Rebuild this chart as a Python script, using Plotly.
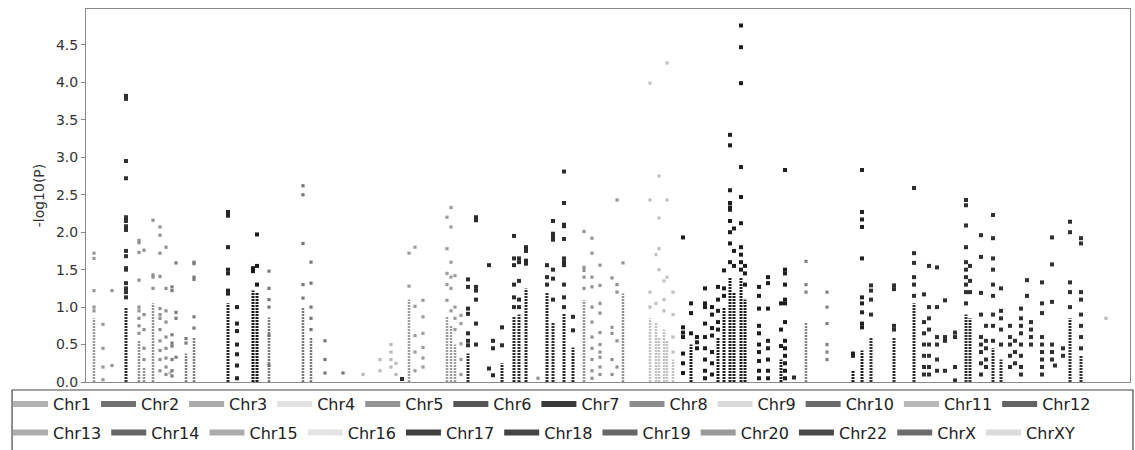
import plotly.graph_objects as go

# ---------------- data ----------------
chr_names = ["Chr1", "Chr2", "Chr3", "Chr4", "Chr5", "Chr6", "Chr7", "Chr8", "Chr9", "Chr10",
             "Chr11", "Chr12", "Chr13", "Chr14", "Chr15", "Chr16", "Chr17", "Chr18", "Chr19",
             "Chr20", "Chr22", "ChrX", "ChrXY"]
chr_colors = ["#b2b2b2", "#6f6f6f", "#aaaaaa", "#e2e2e2", "#939393", "#555555", "#3a3a3a",
              "#8c8c8c", "#dadada", "#6a6a6a", "#b8b8b8", "#636363", "#adadad", "#666666",
              "#acacac", "#e4e4e4", "#404040", "#444444", "#676767", "#9a9a9a", "#4a4a4a",
              "#6c6c6c", "#dcdcdc"]

y_ticks = [0.0, 0.5, 1.0, 1.5, 2.0, 2.5, 3.0, 3.5, 4.0, 4.5]

# per chromosome: SNP positions (genome index), -log10(P) values at each position,
# and the top of the dense run of SNPs at that position (0 = none)
chr1_pos = [8, 17, 26]
chr1_snps = [[1.72, 1.65, 1.22, 1.0, 0.95], [0.77, 0.45, 0.2, 0.03], [1.22, 0.22]]
chr1_stack = [0.85, 0, 0]

chr2_pos = [40]
chr2_snps = [[3.82, 3.78, 2.95, 2.72, 2.2, 2.15, 2.08, 2.03, 1.75, 1.68, 1.52, 1.5, 1.32, 1.25, 1.2, 1.13]]
chr2_stack = [1.0]

chr3_pos = [53, 58, 67, 74, 80]
chr3_snps = [[1.89, 1.86, 1.73, 1.36, 1.0, 0.95, 0.85, 0.75, 0.65], [1.76, 0.9, 0.7, 0.45, 0.3],
             [2.16, 1.43, 1.4, 1.25], [2.07, 1.96, 1.72, 1.41, 0.98, 0.9, 0.85, 0.7, 0.55, 0.42, 0.3, 0.15],
             [1.8, 1.25, 0.95, 0.8, 0.6, 0.45, 0.32, 0.2, 0.1]]
chr3_stack = [0.55, 0.2, 1.05, 0, 0]

chr4_pos = [84]
chr4_snps = [[0.12]]
chr4_stack = [0]

chr5_pos = [86, 90, 100, 108]
chr5_snps = [[1.27, 1.22, 0.63, 0.52, 0.48, 0.3, 0.15, 0.08], [1.59, 0.93, 0.85, 0.33], [0.58, 0.52],
             [1.6, 1.58, 1.4, 1.37, 0.87, 0.72]]
chr5_stack = [0, 0, 0.38, 0.6]

chr6_pos = [142, 151]
chr6_snps = [[2.27, 2.22, 1.8, 1.5, 1.45, 1.22, 1.18], [1.0, 0.78, 0.68, 0.5, 0.37, 0.22, 0.05]]
chr6_stack = [1.05, 0]

chr7_pos = [167, 171]
chr7_snps = [[1.52, 1.48], [1.97, 1.55, 1.3]]
chr7_stack = [1.22, 1.2]

chr8_pos = [183, 217, 225, 239, 257]
chr8_snps = [[1.48, 1.25, 1.1, 1.0, 0.62, 0.22], [2.62, 2.5, 1.85, 1.3, 1.12], [1.6, 1.32, 1.0, 0.85, 0.7],
             [0.55, 0.3, 0.12], [0.12]]
chr8_stack = [0.86, 1.0, 0.6, 0, 0]

chr9_pos = [277, 294, 305, 310]
chr9_snps = [[0.1], [0.3, 0.15], [0.5, 0.4, 0.3, 0.2], [0.25, 0.1]]
chr9_stack = [0, 0, 0, 0]

chr10_pos = [316]
chr10_snps = [[0.04]]
chr10_stack = [0]

chr11_pos = [323, 329, 337, 361, 365, 369, 375]
chr11_snps = [[1.72, 1.28], [1.8, 1.01, 0.62, 0.4, 0.15], [1.09, 0.87, 0.65, 0.46, 0.32, 0.2],
              [2.2, 1.78, 1.45, 1.3, 1.09], [2.33, 2.07, 1.6, 1.4, 1.25, 0.95], [1.42, 1.0, 0.85, 0.7],
              [0.89, 0.78, 0.51, 0.3, 0.1]]
chr11_stack = [1.1, 0, 0, 0.87, 0.75, 0.5, 0]

chr12_pos = [382, 390, 403, 407, 416, 428, 433, 440]
chr12_snps = [[1.37, 1.27, 0.98, 0.91, 0.65, 0.55, 0.49], [2.2, 2.16, 1.27, 1.22, 1.1, 0.78, 0.5],
              [1.56, 0.18], [0.55, 0.45, 0.09], [0.73, 0.49], [1.95, 1.65, 1.56, 1.3, 1.13, 1.0],
              [1.65, 1.6, 1.35, 1.1, 1.0], [1.8, 1.75, 1.62, 1.58]]
chr12_stack = [0.38, 0, 0, 0, 0.25, 0.87, 0.9, 1.25]

chr13_pos = [452]
chr13_snps = [[0.05]]
chr13_stack = [0]

chr14_pos = [461, 467, 478, 487]
chr14_snps = [[1.56, 1.4, 1.3], [2.15, 1.98, 1.94, 1.9, 1.5, 1.38, 1.1],
              [2.81, 2.39, 2.1, 2.08, 1.91, 1.65, 1.6, 1.56, 1.3, 1.13, 1.0], [0.87, 0.69]]
chr14_stack = [1.2, 0.8, 0.92, 0.46]

chr15_pos = [498, 506, 514, 526, 531, 537]
chr15_snps = [[2.01, 1.53, 1.49, 1.4, 1.25], [1.92, 1.72, 1.4, 1.27, 1.0, 0.8, 0.6, 0.45, 0.3, 0.15, 0.05],
              [1.56, 1.29, 1.05, 0.92, 0.66, 0.5, 0.4, 0.33, 0.2, 0.1], [1.39, 0.73, 0.65, 0.3, 0.1],
              [2.43, 1.3, 1.2, 0.55, 0.2], [1.59]]
chr15_stack = [1.09, 0, 0, 0, 0, 1.18]

chr16_pos = [564, 570, 573, 578, 581, 587]
chr16_snps = [[3.99, 2.43, 1.2, 1.0], [1.7, 1.05], [2.75, 2.19, 1.78, 1.5], [1.35, 1.1, 0.95],
              [4.26, 2.43, 1.4], [1.2, 0.9, 0.6, 0.4]]
chr16_stack = [0.85, 0.8, 0.6, 0.7, 0.55, 0.3]

chr17_pos = [597, 605, 611]
chr17_snps = [[1.93, 0.73, 0.66, 0.6, 0.38, 0.25, 0.12], [1.05, 0.92, 0.65], [0.6, 0.53, 0.45]]
chr17_stack = [0, 0.5, 0]

chr18_pos = [619, 626, 632, 638, 644, 648, 655, 659, 673, 682, 695, 699]
chr18_snps = [[1.25, 1.05, 1.0, 0.78, 0.6, 0.45, 0.3, 0.15, 0.05], [1.0, 0.9, 0.72, 0.62, 0.4, 0.25, 0.1],
              [1.27, 1.1, 0.95, 0.8, 0.7], [1.49, 1.25, 1.15],
              [3.3, 3.16, 2.56, 2.39, 2.33, 2.3, 2.15, 2.0, 1.85, 1.6], [2.05, 1.75, 1.55],
              [4.76, 4.47, 3.99, 2.87, 2.47, 2.12, 1.8, 1.7, 1.6, 1.5], [1.55, 1.45, 1.3],
              [1.27, 1.15, 0.98, 0.75, 0.65, 0.5, 0.4, 0.28, 0.15, 0.05],
              [1.4, 1.32, 0.98, 0.55, 0.45, 0.3, 0.15, 0.05], [1.05, 0.7, 0.48],
              [2.83, 1.5, 1.45, 1.3, 1.1, 1.05, 0.8, 0.55, 0.45, 0.35, 0.25, 0.15, 0.05]]
chr18_stack = [0, 0, 0.6, 1.0, 1.4, 1.2, 1.4, 1.1, 0, 0, 0.3, 0]

chr19_pos = [708]
chr19_snps = [[0.06]]
chr19_stack = [0]

chr20_pos = [720, 741]
chr20_snps = [[1.61, 1.3, 1.2], [1.2, 1.0, 0.78, 0.5, 0.4, 0.3]]
chr20_stack = [0.8, 0]

chr22_pos = [767, 776]
chr22_snps = [[0.38, 0.35], [2.83, 2.27, 2.17, 2.07, 1.65, 1.13, 1.05, 0.93, 0.78, 0.73]]
chr22_stack = [0.15, 0.42]

chrX_pos = [785, 808, 828, 838, 843, 851, 859, 869, 880, 884, 895, 900, 907, 915, 924, 929, 935,
            941, 945, 956, 966, 969, 977, 984, 995]
chrX_snps = [[1.29, 1.22, 1.1, 0.9], [1.29, 1.24, 0.75, 0.7], [2.59, 1.72, 1.59, 1.4, 1.3, 1.15],
             [1.17, 0.8, 0.65, 0.5, 0.35, 0.2, 0.1], [1.55, 1.0, 0.85, 0.7, 0.5, 0.35, 0.2, 0.1],
             [1.53, 1.0, 0.6, 0.5, 0.3, 0.15], [1.09, 0.6, 0.55, 0.15], [0.66, 0.6, 0.2, 0.02],
             [2.43, 2.36, 2.09, 1.8, 1.6, 1.5, 1.4, 1.3, 1.2, 1.05], [1.55, 1.35, 1.2],
             [1.96, 1.67, 1.19, 0.9, 0.6, 0.5, 0.4, 0.25, 0.1], [0.75, 0.55, 0.45, 0.3, 0.2],
             [2.23, 1.92, 1.65, 1.5, 1.3, 1.15, 0.9, 0.75, 0.55], [1.25, 0.95, 0.85, 0.7, 0.5],
             [0.75, 0.6, 0.5, 0.35, 0.2], [0.55, 0.4, 0.25], [0.98, 0.85, 0.75, 0.65, 0.5, 0.35, 0.2, 0.1],
             [1.36, 1.15], [0.8, 0.7, 0.6, 0.5], [1.33, 1.05, 0.92, 0.6, 0.5, 0.4, 0.3, 0.2, 0.1],
             [1.93, 1.57, 1.07, 0.5, 0.4, 0.3], [0.22], [0.45, 0.35], [2.14, 2.0, 1.33, 1.2, 1.0],
             [1.92, 1.85, 1.2, 1.1, 0.9, 0.75, 0.6, 0.45]]
chrX_stack = [0.6, 0.6, 1.05, 0, 0, 0, 0, 0, 0.9, 0.85, 0, 0, 0.45, 0.3, 0, 0, 0, 0, 0, 0, 0, 0, 0, 0.85, 0.35]

chrXY_pos = [1020]
chrXY_snps = [[0.85]]
chrXY_stack = [0]

genome_length = 1044

chrom_tables = [
    (chr1_pos, chr1_snps, chr1_stack), (chr2_pos, chr2_snps, chr2_stack),
    (chr3_pos, chr3_snps, chr3_stack), (chr4_pos, chr4_snps, chr4_stack),
    (chr5_pos, chr5_snps, chr5_stack), (chr6_pos, chr6_snps, chr6_stack),
    (chr7_pos, chr7_snps, chr7_stack), (chr8_pos, chr8_snps, chr8_stack),
    (chr9_pos, chr9_snps, chr9_stack), (chr10_pos, chr10_snps, chr10_stack),
    (chr11_pos, chr11_snps, chr11_stack), (chr12_pos, chr12_snps, chr12_stack),
    (chr13_pos, chr13_snps, chr13_stack), (chr14_pos, chr14_snps, chr14_stack),
    (chr15_pos, chr15_snps, chr15_stack), (chr16_pos, chr16_snps, chr16_stack),
    (chr17_pos, chr17_snps, chr17_stack), (chr18_pos, chr18_snps, chr18_stack),
    (chr19_pos, chr19_snps, chr19_stack), (chr20_pos, chr20_snps, chr20_stack),
    (chr22_pos, chr22_snps, chr22_stack), (chrX_pos, chrX_snps, chrX_stack),
    (chrXY_pos, chrXY_snps, chrXY_stack),
]


def is_dark(hexc):
    return int(hexc[1:3], 16) < 0x80


def point_color(hexc):
    v = [int(hexc[i:i + 2], 16) for i in (1, 3, 5)]
    f = 0.45 if is_dark(hexc) else 0.85
    return "#%02x%02x%02x" % tuple(int(c * f) for c in v)


FONT = "DejaVu Sans"
fig = go.Figure()

for idx, (name, color, (pos, snps, stack)) in enumerate(zip(chr_names, chr_colors, chrom_tables)):
    pc = point_color(color)
    dark = is_dark(color)
    sx, sy = [], []
    for p, top in zip(pos, stack):
        if top > 0:
            sx += [p, p, None]
            sy += [0, top, None]
    if sx:
        fig.add_trace(go.Scatter(x=sx, y=sy, mode="lines", showlegend=False, hoverinfo="skip",
                                 line=dict(color=pc, width=3 if dark else 2.5, dash="2px,1px")))
    mx, my = [], []
    for p, vals in zip(pos, snps):
        mx += [p] * len(vals)
        my += vals
    fig.add_trace(go.Scatter(x=mx, y=my, mode="markers", showlegend=False, name=name,
                             marker=dict(symbol="square", size=4 if dark else 3.2, color=pc,
                                         line=dict(width=0))))
    fig.add_trace(go.Scatter(x=[None], y=[None], mode="lines", name=name,
                             line=dict(color=color, width=6),
                             legend="legend" if idx < 12 else "legend2"))

legend_common = dict(orientation="h", xanchor="left",
                     font=dict(family=FONT, size=16, color="#222222"),
                     itemwidth=35, bgcolor="rgba(0,0,0,0)", borderwidth=0)

# right margin 0 (x-domain stops short of the edge) so legends are not padded into the margin
fig.update_layout(
    width=1135, height=450,
    margin=dict(l=86, r=0, t=9, b=68),
    paper_bgcolor="white", plot_bgcolor="white",
    font=dict(family=FONT, color="#333333"),
    xaxis=dict(domain=[0, 0.99523], range=[0, genome_length], showticklabels=False,
               showgrid=False, zeroline=False,
               showline=True, linecolor="#8a8a8a", linewidth=1, mirror=True, ticks=""),
    yaxis=dict(range=[0, 4.98], tickvals=y_ticks, tickformat=".1f", ticks="outside", ticklen=4,
               tickcolor="#888888", showgrid=False, zeroline=False, showline=True,
               linecolor="#8a8a8a", linewidth=1, mirror=True,
               tickfont=dict(family=FONT, size=14, color="#333333"),
               title=dict(text="-log10(P)", font=dict(family=FONT, size=14, color="#333333"),
                          standoff=8)),
    legend=dict(x=-0.0744, y=-0.0134, yanchor="top", **legend_common),
    legend2=dict(x=-0.0744, y=-0.1815, yanchor="bottom", **legend_common),
    shapes=[dict(type="rect", xref="paper", yref="paper", x0=-0.0705, x1=0.99809,
                 y0=-0.0214, y1=-0.3, line=dict(color="#444444", width=1.2),
                 fillcolor="rgba(0,0,0,0)")],
)

fig.write_html("out.html")
